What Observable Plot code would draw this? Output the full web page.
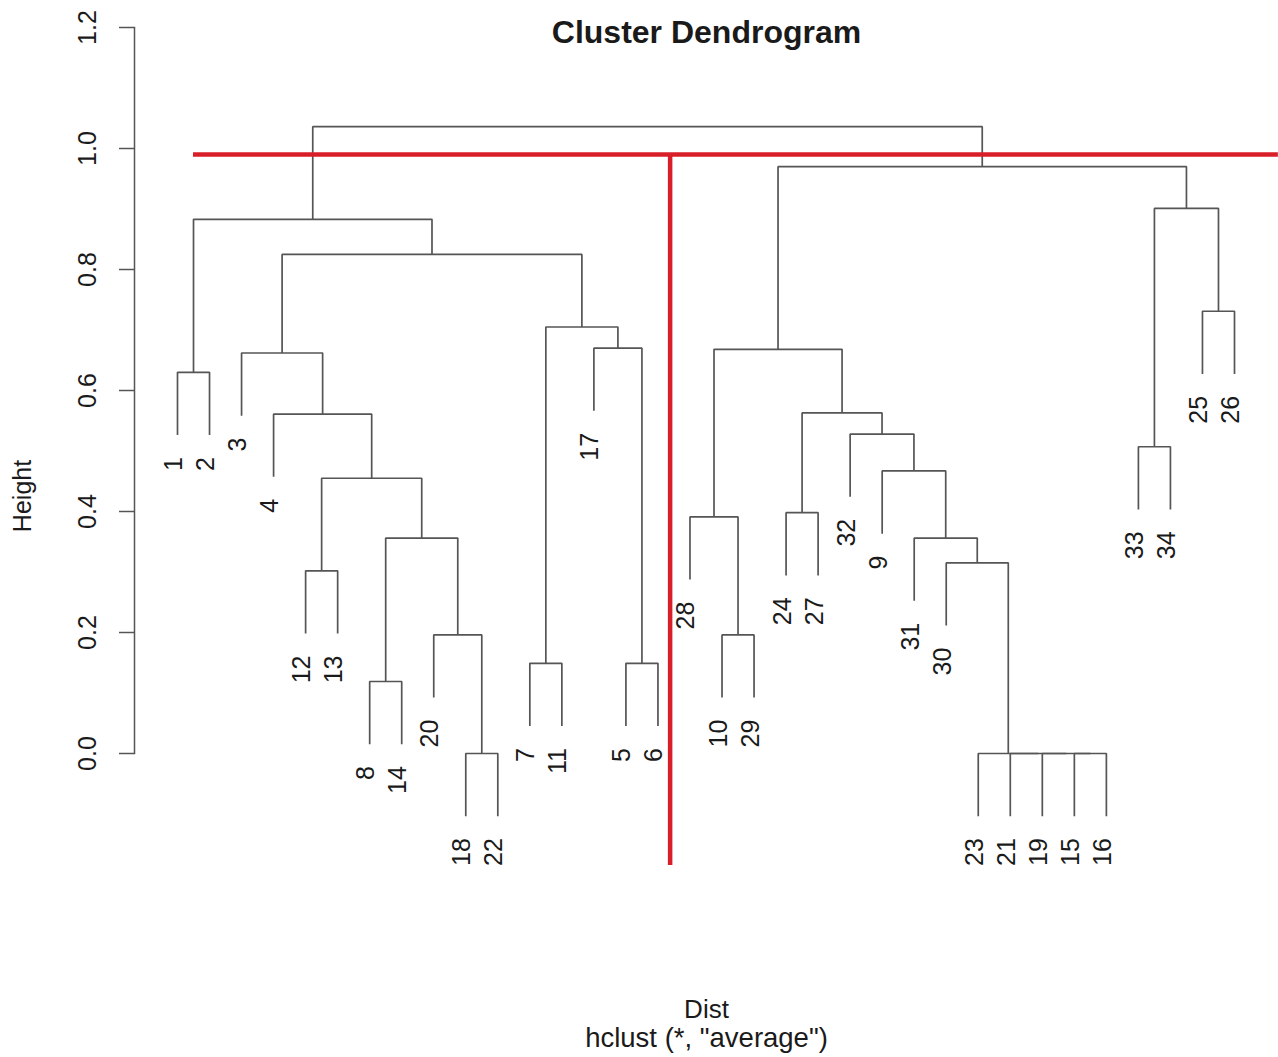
<!DOCTYPE html>
<html>
<head>
<meta charset="utf-8">
<script src="https://cdn.jsdelivr.net/npm/d3@7"></script>
<script src="https://cdn.jsdelivr.net/npm/@observablehq/plot@0.6"></script>
<style>
  html, body { margin: 0; padding: 0; background: white; overflow: hidden; }
  svg { display: block; }
</style>
</head>
<body>
<div id="chart"></div>
<script>
// Leaf order along the x axis (left to right)
const leafOrder = [1,2,3,4,12,13,8,14,20,18,22,7,11,17,5,6,28,10,29,24,27,32,9,31,30,23,21,19,15,16,33,34,25,26];

// hclust-style merge table: negative = leaf label, positive = earlier merge (1-based)
const mergeLeft  = [-18,-15,-19,-21,-23, -8, -7, -5,-20,-10,-12,-30,  6,-31,-28,-24, 11, -9,-33,-32, -4, 16, -1, -3, 15,-17,  7,-25, 24, 23, 19, 25, 30];
const mergeRight = [-22,-16,  2,  3,  4,-14,-11, -6,  1,-29,-13,  5,  9, 12, 10,-27, 13, 14,-34, 18, 17, 20, -2, 21, 22,  8, 26,-26, 27, 29, 28, 31, 32];
const mergeHeight = [0.000,0.000,0.000,0.000,0.000,0.119,0.149,0.149,0.196,0.196,0.302,0.315,0.356,0.356,0.391,0.398,0.455,0.467,0.507,0.528,0.561,0.563,0.630,0.662,0.668,0.670,0.705,0.731,0.825,0.883,0.901,0.970,1.036];

const yTicks = [0, 0.2, 0.4, 0.6, 0.8, 1.0, 1.2];

// Red cut annotations
const cutHorizontal = [{y: 0.99, x1: 1.5, x2: 35.37}];
const cutVertical = [{x: 16.38, y1: 0.99, y2: -0.185}];

const titleText = "Cluster Dendrogram";
const xLabel = "Dist";
const subLabel = 'hclust (*, "average")';
const yLabel = "Height";

// ---- build dendrogram geometry from the merge table ----
const hang = 0.1 * (d3.max(mergeHeight) - d3.min(mergeHeight));
const pos = new Map(leafOrder.map((l, i) => [l, i + 1]));
const nodeX = [], nodeH = [];
const segs = [], leaves = [];
mergeHeight.forEach((h, i) => {
  const pts = [mergeLeft[i], mergeRight[i]].map(k =>
    k < 0 ? {x: pos.get(-k), y: h - hang, leaf: -k} : {x: nodeX[k - 1], y: nodeH[k - 1]});
  nodeX[i] = (pts[0].x + pts[1].x) / 2;
  nodeH[i] = h;
  pts.sort((a, b) => a.x - b.x);
  segs.push({id: i, x: pts[0].x, y: pts[0].y},
            {id: i, x: pts[0].x, y: h},
            {id: i, x: pts[1].x, y: h},
            {id: i, x: pts[1].x, y: pts[1].y});
  pts.forEach(p => { if (p.leaf) leaves.push({label: String(p.leaf), x: p.x, y: p.y}); });
});

const ink = "#1a1a1a";
const lineCol = "#555";
const red = "#d81e28";

const chart = Plot.plot({
  width: 1278,
  height: 1057,
  marginTop: 27,
  marginBottom: 304,
  marginLeft: 134,
  marginRight: 0,
  style: {fontFamily: "'Liberation Sans', Arial, Helvetica, sans-serif", background: "white", overflow: "hidden", color: ink},
  x: {domain: [1, 34], range: [177, 1234], axis: null},
  y: {domain: [0, 1.2], range: [753, 27]},
  marks: [
    Plot.frame({anchor: "left", stroke: lineCol, strokeWidth: 1.5}),
    Plot.axisY(yTicks, {tickSize: 15, tickFormat: () => "", label: null, stroke: lineCol, strokeWidth: 1.5}),
    Plot.text(yTicks, {y: d => d, text: d => d.toFixed(1), frameAnchor: "left", dx: -46.5, rotate: -90,
      textAnchor: "middle", lineAnchor: "middle", fontSize: 25, fill: ink}),
    Plot.text([yLabel], {frameAnchor: "left", dx: -111.5, dy: 105.5, rotate: -90,
      textAnchor: "middle", lineAnchor: "middle", fontSize: 25, fill: ink}),
    Plot.text([titleText], {frameAnchor: "top", dy: 5, lineAnchor: "middle", textAnchor: "middle",
      fontSize: 32, fontWeight: "bold", fill: ink}),
    Plot.text([xLabel], {frameAnchor: "bottom", dy: 256, lineAnchor: "middle", textAnchor: "middle", fontSize: 26, fill: ink}),
    Plot.text([subLabel], {frameAnchor: "bottom", dy: 285, lineAnchor: "middle", textAnchor: "middle", fontSize: 27.5, fill: ink}),
    Plot.line(segs, {x: "x", y: "y", z: "id", stroke: lineCol, strokeWidth: 1.7, strokeLinejoin: "miter", strokeLinecap: "butt"}),
    Plot.text(leaves, {x: "x", y: "y", text: "label", rotate: -90, textAnchor: "end", lineAnchor: "middle",
      dy: 22, dx: -3.5, fontSize: 25, fill: ink}),
    Plot.ruleY(cutHorizontal, {y: "y", x1: "x1", x2: "x2", stroke: red, strokeWidth: 4.5}),
    Plot.ruleX(cutVertical, {x: "x", y1: "y1", y2: "y2", stroke: red, strokeWidth: 4.5})
  ]
});
document.getElementById("chart").appendChild(chart);
</script>
</body>
</html>
